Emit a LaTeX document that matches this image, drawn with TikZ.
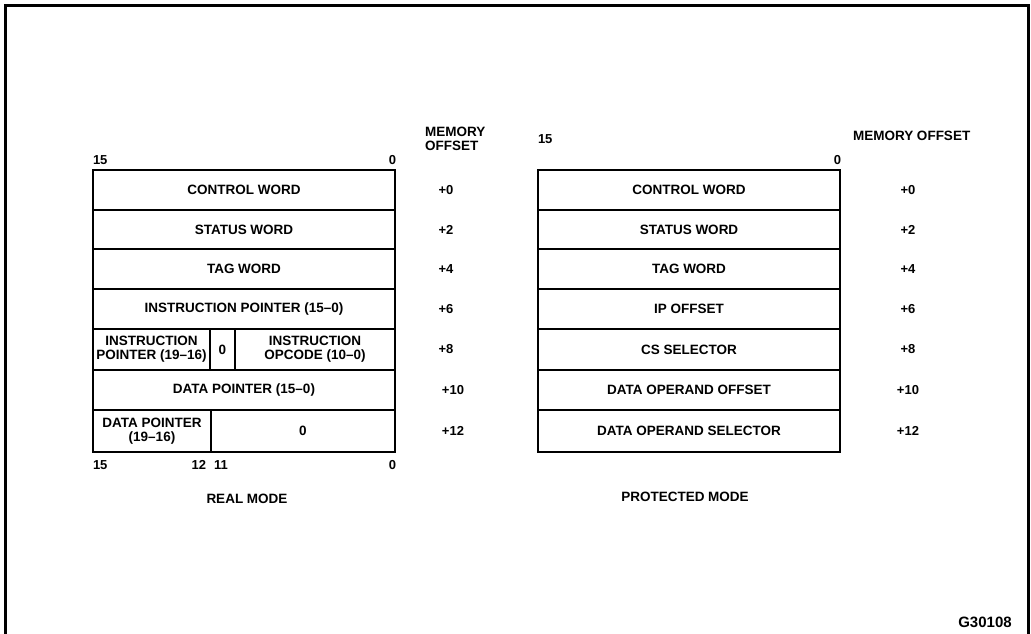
\documentclass[tikz,border=0pt]{standalone}
\usepackage{fontspec}
\setmainfont{Liberation Sans}
\begin{document}
\begin{tikzpicture}[x=1pt,y=-1pt,
  every node/.style={font=\fontsize{13.5}{14}\selectfont\bfseries, inner sep=0pt, outer sep=0pt},
  cell/.style={draw, line width=2.4pt, minimum height=#1, align=center},
  cell/.default=40pt,
  lbl/.style={font=\fontsize{13}{13}\selectfont\bfseries},
  offs/.style={font=\fontsize{13}{13}\selectfont\bfseries},
  frame/.style={line width=3pt}]
\useasboundingbox (0,0) rectangle (1031,634);
% frame
\coordinate (fbl) at (5,636);
\coordinate (ftl) at (5,6);
\coordinate (ftr) at (1028,6);
\coordinate (fbr) at (1028,636);
\draw[frame] (fbl) -- (ftl) -- (ftr) -- (fbr);

% ---------- left table (real mode) ----------
\node[cell, minimum width=302pt] (L1) at (244,190) {CONTROL WORD};
\node[cell, minimum width=302pt, minimum height=39pt] (L2) at (244,229.5) {STATUS WORD};
\node[cell, minimum width=302pt] (L3) at (244,269) {TAG WORD};
\node[cell, minimum width=302pt] (L4) at (244,309) {INSTRUCTION POINTER (15–0)};
\node[cell=41pt, minimum width=117pt] (L5a) at (151.5,349.5) {INSTRUCTION\\POINTER (19–16)};
\node[cell=41pt, minimum width=25pt] (L5b) at (222.5,349.5) {0};
\node[cell=41pt, minimum width=160pt] (L5c) at (315,349.5) {INSTRUCTION\\OPCODE (10–0)};
\node[cell, minimum width=302pt] (L6) at (244,390) {DATA POINTER (15–0)};
\node[cell=42pt, minimum width=118pt] (L7a) at (152,431) {DATA POINTER\\(19–16)};
\node[cell=42pt, minimum width=184pt] (L7b) at (303,431) {0};

\node[lbl, anchor=west] (lt15) at (93,160) {15};
\node[lbl, anchor=east] (lt0) at (396,160) {0};
\node[lbl, anchor=west] (lb15) at (93,465) {15};
\node[lbl, anchor=east] (lb12) at (206,465) {12};
\node[lbl, anchor=west] (lb11) at (214,465) {11};
\node[lbl, anchor=east] (lb0) at (396,465) {0};

\node[align=left, anchor=west, font=\fontsize{13.5}{13.5}\selectfont\bfseries] (Lmo) at (425,139) {MEMORY\\OFFSET};
\node[offs] (Lo0) at (446,190) {+0};
\node[offs] (Lo2) at (446,229.5) {+2};
\node[offs] (Lo4) at (446,269) {+4};
\node[offs] (Lo6) at (446,309) {+6};
\node[offs] (Lo8) at (446,349.5) {+8};
\node[offs] (Lo10) at (453,390) {+10};
\node[offs] (Lo12) at (453,431) {+12};

\node (realmode) at (247,499) {REAL MODE};

% ---------- right table (protected mode) ----------
\node[cell, minimum width=302pt] (R1) at (689,190) {CONTROL WORD};
\node[cell, minimum width=302pt, minimum height=39pt] (R2) at (689,229.5) {STATUS WORD};
\node[cell, minimum width=302pt] (R3) at (689,269) {TAG WORD};
\node[cell, minimum width=302pt] (R4) at (689,309) {IP OFFSET};
\node[cell=41pt, minimum width=302pt] (R5) at (689,349.5) {CS SELECTOR};
\node[cell, minimum width=302pt] (R6) at (689,390) {DATA OPERAND OFFSET};
\node[cell=42pt, minimum width=302pt] (R7) at (689,431) {DATA OPERAND SELECTOR};

\node[lbl, anchor=west] (rt15) at (538,139) {15};
\node[lbl, anchor=east] (rt0) at (841,160) {0};

\node[anchor=west] (Rmo) at (853,136) {MEMORY OFFSET};
\node[offs] (Ro0) at (908,190) {+0};
\node[offs] (Ro2) at (908,229.5) {+2};
\node[offs] (Ro4) at (908,269) {+4};
\node[offs] (Ro6) at (908,309) {+6};
\node[offs] (Ro8) at (908,349.5) {+8};
\node[offs] (Ro10) at (908,390) {+10};
\node[offs] (Ro12) at (908,431) {+12};

\node (protmode) at (685,497) {PROTECTED MODE};

\node[font=\fontsize{15}{16}\selectfont\bfseries] (gid) at (985,622) {G30108};
\end{tikzpicture}
\end{document}
